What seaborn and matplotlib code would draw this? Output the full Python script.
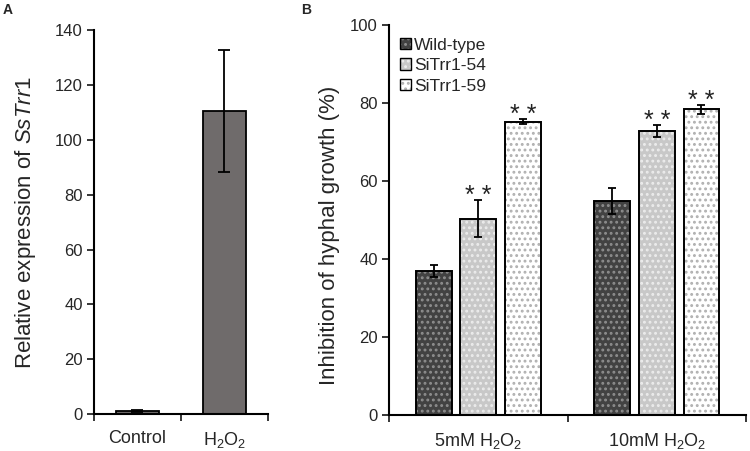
import matplotlib
matplotlib.use("Agg")
import matplotlib.pyplot as plt
from matplotlib.patches import Rectangle, Patch
import seaborn as sns
import numpy as np
import pandas as pd

# panel A data
a_groups = ["Control", "H$_2$O$_2$"]
a_values = [1.0, 110.6]
a_err = [0.3, 22.2]

# panel B data
b_groups = ["5mM H$_2$O$_2$", "10mM H$_2$O$_2$"]
b_lines = ["Wild-type", "SiTrr1-54", "SiTrr1-59"]
b_wt = [36.9, 54.8]
b_54 = [50.3, 72.7]
b_59 = [75.2, 78.3]
b_wt_err = [1.5, 3.3]
b_54_err = [4.8, 1.5]
b_59_err = [0.6, 1.1]
b_stars = [[False, False], [True, True], [True, True]]

sns.set_style("white")
plt.rcParams["font.family"] = ["Liberation Sans", "DejaVu Sans"]
plt.rcParams["mathtext.fontset"] = "custom"
plt.rcParams["mathtext.rm"] = "Liberation Sans"
plt.rcParams["mathtext.it"] = "Liberation Sans:italic"
plt.rcParams["hatch.linewidth"] = 1.3

fig = plt.figure(figsize=(7.5, 4.51), dpi=100)
axA = fig.add_axes([0.1253, 0.082, 0.232, 0.851])
axB = fig.add_axes([0.5187, 0.080, 0.476, 0.865])

# ---- panel A
dfa = pd.DataFrame({"group": a_groups, "value": a_values})
sns.barplot(data=dfa, x="group", y="value", ax=axA, color="#6f6b6b",
            width=0.5, edgecolor="black", linewidth=1.3, errorbar=None,
            saturation=1)
axA.errorbar(range(len(a_groups)), a_values, yerr=a_err, fmt="none",
             ecolor="black", elinewidth=1.3, capsize=4, capthick=1.3)
axA.set_ylim(0, 140)
axA.set_yticks(np.arange(0, 141, 20))
axA.set_xlim(-0.5, 1.5)
axA.set_ylabel("Relative expression of $\\it{SsTrr1}$", fontsize=16)
axA.yaxis.set_label_coords(-0.322, 0.5)
axA.set_xlabel("")

# ---- panel B
dfb = pd.DataFrame({
    "group": b_groups * 3,
    "line": np.repeat(b_lines, 2),
    "value": b_wt + b_54 + b_59,
    "err": b_wt_err + b_54_err + b_59_err,
})
faces = ["#424242", "#c8c8c8", "#ffffff"]
hatchcols = ["#8e8e8e", "#ececec", "#b0b0b0"]
sns.barplot(data=dfb, x="group", y="value", hue="line", ax=axB,
            palette=faces, width=0.75, gap=0.2, errorbar=None,
            saturation=1, legend=False)

bar_conts = list(axB.containers)
for i, cont in enumerate(bar_conts):
    for j, p in enumerate(cont.patches):
        p.set_hatch("...")
        p.set_edgecolor(hatchcols[i])
        p.set_linewidth(0)
        x0, y0 = p.get_xy()
        axB.add_patch(Rectangle((x0, y0), p.get_width(), p.get_height(),
                                facecolor="none", edgecolor="black",
                                linewidth=1.4, zorder=p.get_zorder() + 0.1))
        xc = x0 + p.get_width() / 2
        v = dfb["value"].iloc[i * 2 + j]
        e = dfb["err"].iloc[i * 2 + j]
        axB.errorbar(xc, v, yerr=e, fmt="none", ecolor="black",
                     elinewidth=1.3, capsize=3, capthick=1.3, zorder=5)
        if b_stars[i][j]:
            axB.text(xc, v + e - 0.75, "* *", ha="center", va="baseline",
                     fontsize=18, color="#222222")

axB.set_ylim(0, 100)
axB.set_yticks(np.arange(0, 101, 20))
axB.set_xlim(-0.5, 1.5)
axB.set_ylabel("Inhibition of hyphal growth (%)", fontsize=16)
axB.yaxis.set_label_coords(-0.137, 0.459)
axB.set_xlabel("")

handles = []
for i in range(3):
    h1 = Patch(facecolor=faces[i], edgecolor=hatchcols[i], linewidth=0,
               hatch="...")
    h2 = Patch(facecolor="none", edgecolor="black", linewidth=1.0)
    handles.append((h1, h2))
leg = axB.legend(handles, b_lines, loc="upper left", frameon=False,
                 fontsize=12.5, handlelength=0.65, handleheight=0.65,
                 handletextpad=0.2, labelspacing=0.32,
                 bbox_to_anchor=(0.01, 0.985), borderaxespad=0)

for ax in (axA, axB):
    for s in ("top", "right"):
        ax.spines[s].set_visible(False)
    for s in ("left", "bottom"):
        ax.spines[s].set_linewidth(1.5)
        ax.spines[s].set_color("black")
    ax.tick_params(axis="y", which="major", left=True, length=5, width=1.3,
                   labelsize=12, direction="out", pad=3)
    ax.tick_params(axis="x", which="major", bottom=False, labelsize=13,
                   pad=8)
    ax.set_xticks([-0.5, 0.5, 1.5], minor=True)
    ax.tick_params(axis="x", which="minor", bottom=True, length=5, width=1.3,
                   direction="out")

fig.text(0.004, 0.993, "A", fontsize=10, fontweight="bold", va="top")
fig.text(0.402, 0.993, "B", fontsize=10, fontweight="bold", va="top")

fig.savefig("out.png", dpi=100)
